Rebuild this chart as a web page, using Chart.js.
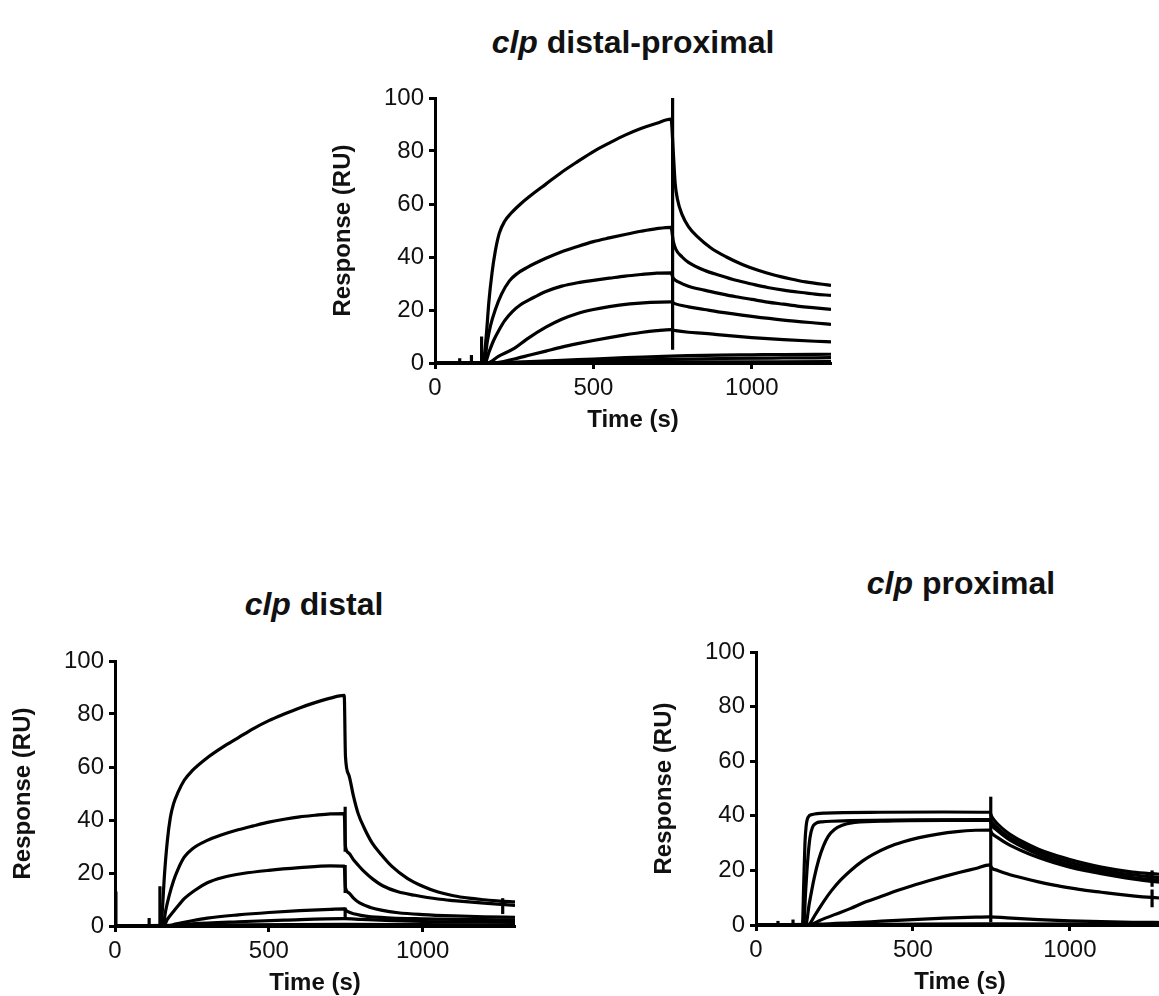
<!DOCTYPE html>
<html>
<head>
<meta charset="utf-8">
<script src="https://cdn.jsdelivr.net/npm/chart.js@4.4.1/dist/chart.umd.min.js"></script>
<style>
html,body{margin:0;padding:0;background:#fff;width:1159px;height:996px;overflow:hidden;position:relative;}
canvas{position:absolute;}
.ttl{position:absolute;font:bold 32px "Liberation Sans",Arial,sans-serif;line-height:32px;white-space:nowrap;transform:translateX(-50%);color:#111;}
</style>
</head>
<body>
<div class="ttl" style="left:633px;top:26px"><i>clp</i> distal-proximal</div>
<div class="ttl" style="left:314px;top:588px"><i>clp</i> distal</div>
<div class="ttl" style="left:961px;top:567px"><i>clp</i> proximal</div>
<canvas id="c1" width="521" height="357" style="left:320px;top:78px"></canvas>
<canvas id="c2" width="525" height="357" style="left:0px;top:641px"></canvas>
<canvas id="c3" width="533" height="365" style="left:641px;top:632px"></canvas>
<script>
// ---------- axis ticks ----------
const xTickValues = [0, 500, 1000];
const xTickLabels = ['0', '500', '1000'];
const yTickValues = [0, 20, 40, 60, 80, 100];
const yTickLabels = ['0', '20', '40', '60', '80', '100'];
const xAxisTitle = 'Time (s)';
const yAxisTitle = 'Response (RU)';
const xMaxDistalProximal = 1250;
const xMaxDistal = 1300;
const xMaxProximal = 1300;

// ---------- clp distal-proximal : [time (s), response (RU)] ----------
const dp1 = [[0,0],[150,0],[155,2],[163,12],[170,23],[180,34],[190,42],[203,49],[220,53.5],[240,56.5],[270,60],[300,63],[350,67.5],[400,72],[450,76],[500,79.8],[550,83],[600,86],[650,88.5],[700,90.5],[745,92],
  [752,80],[758,68],[765,62],[780,56],[800,51.5],[830,47.5],[870,43.5],[920,40],[970,37.2],[1020,35],[1070,33.2],[1120,31.8],[1170,30.6],[1250,29.3]];
const dp2 = [[0,0],[155,0],[165,8],[175,14],[190,20],[210,26],[235,31],[260,33.8],[290,36],[350,39.5],[400,42],[450,44],[500,45.8],[550,47.2],[600,48.5],[650,49.7],[700,50.7],[745,51.2],
  [752,46],[760,43],[780,40],[800,38],[850,35],[900,33],[950,31.2],[1000,29.8],[1050,28.5],[1100,27.5],[1150,26.7],[1200,26],[1250,25.5]];
const dp3 = [[0,0],[158,0],[170,4],[185,8.5],[200,12],[220,16],[245,19.5],[270,22],[300,24],[350,27],[400,29],[450,30.3],[500,31.2],[550,32],[600,32.8],[650,33.4],[700,33.9],[745,34],
  [752,32],[770,30.5],[800,29],[850,27.5],[900,26.2],[950,25],[1000,24],[1050,23],[1100,22.2],[1150,21.4],[1200,20.8],[1250,20.2]];
const dp4 = [[0,0],[165,0],[200,2.5],[250,5.5],[290,9],[350,13.5],[400,16.5],[450,18.7],[500,20.2],[550,21.3],[615,22.3],[680,22.9],[745,23.1],
  [755,22.5],[800,21.2],[850,20.2],[900,19.2],[1000,17.6],[1100,16.2],[1200,15.1],[1250,14.6]];
const dp5 = [[0,0],[180,0],[250,1.5],[300,3],[350,4.5],[400,6],[450,7.3],[500,8.5],[550,9.6],[600,10.6],[650,11.5],[700,12.2],[745,12.6],
  [760,12.2],[800,11.6],[850,11.2],[900,10.6],[1000,9.6],[1100,8.8],[1200,8.2],[1250,8]];
const dp6 = [[0,0],[200,0],[300,0.5],[400,1],[500,1.5],[600,2],[700,2.4],[745,2.6],[800,2.8],[900,3],[1000,3.1],[1100,3.2],[1250,3.3]];
const dp7 = [[0,0],[200,0],[400,0.5],[600,1],[745,1.4],[900,1.7],[1100,1.9],[1250,2]];
const dp8 = [[0,0],[300,0.2],[745,0.4],[1250,0.5]];
const dpSpikes = [[[78,0],[78,1.8]],[[115,0],[115,3]],[[147,0],[147,10]],[[750,5],[750,100]]];

// ---------- clp distal ----------
const d1 = [[0,0],[150,0],[155,8],[160,18],[170,32],[180,41],[190,46],[205,50.5],[225,55],[250,58.5],[300,63.5],[350,67.5],[400,71],[450,74.5],[500,77.5],[550,80],[600,82.3],[650,84.3],[700,86],[745,87],
  [749,64],[760,57],[775,49],[790,42.5],[810,37],[835,31.5],[865,27],[900,22.5],[950,18],[1000,15],[1050,12.8],[1100,11.4],[1150,10.5],[1200,9.9],[1250,9.4],[1300,9.1]];
const d2 = [[0,0],[155,0],[165,6],[175,11],[190,17],[205,21.5],[225,26],[250,29],[300,32.3],[350,34.5],[400,36.3],[450,37.8],[500,39.2],[550,40.3],[600,41.2],[650,41.8],[700,42.3],[745,42.4],
  [749,30],[760,27.5],[775,25],[790,23],[810,20.5],[840,17.5],[870,15.2],[920,12.9],[975,11.6],[1050,10.2],[1100,9.6],[1200,8.6],[1300,7.8]];
const d3 = [[0,0],[158,0],[170,2.5],[190,5.5],[210,8.3],[225,10.3],[260,13.5],[300,16.3],[350,18.3],[415,19.8],[500,21],[600,22],[700,22.7],[745,22.6],
  [749,14.5],[760,12.5],[775,10.5],[795,8.7],[830,7],[865,6],[920,5],[1000,4.3],[1100,3.8],[1200,3.5],[1300,3.3]];
const d4 = [[0,0],[165,0],[200,0.8],[250,2],[300,3],[400,4.2],[500,5.1],[600,5.8],[700,6.3],[745,6.5],
  [755,5.5],[780,4.5],[820,3.6],[900,3],[1000,2.7],[1100,2.5],[1200,2.4],[1300,2.3]];
const d5 = [[0,0],[170,0],[250,0.8],[400,1.6],[550,2.2],[745,2.8],[800,2.5],[900,2],[1000,1.7],[1150,1.5],[1300,1.4]];
const d6 = [[0,0],[300,0.3],[745,0.6],[1000,0.5],[1300,0.4]];
const dSpikes = [[[3,0],[3,13]],[[111,0],[111,3]],[[146,0],[146,15]],[[748,45],[748,28]],[[748,23],[748,12.5]],[[748,7],[748,3]],[[1260,4.5],[1260,10.5]]];

// ---------- clp proximal ----------
const pA = [[0,0],[148,0],[152,15],[156,30],[160,36.5],[166,39.5],[180,40.5],[220,41],[400,41.3],[600,41.4],[745,41.3],
  [752,39.5],[770,37],[800,34],[850,30.5],[900,27.8],[950,25.7],[1000,24],[1050,22.5],[1100,21.2],[1150,20.2],[1200,19.4],[1260,18.8],[1300,18.5]];
const pB = [[0,0],[152,0],[158,12],[165,24],[172,32],[180,35.8],[190,37.2],[210,37.8],[300,38.2],[500,38.5],[745,38.6],
  [752,37.5],[770,35.5],[800,32.7],[850,29.5],[900,26.8],[950,24.7],[1000,23],[1050,21.5],[1100,20.3],[1150,19.2],[1200,18.4],[1260,17.6],[1300,17.2]];
const pC = [[0,0],[158,0],[170,8],[185,17],[200,24],[215,29],[230,32.5],[250,35],[275,36.5],[300,37.3],[400,38],[600,38.3],[745,38.3],
  [752,36.5],[770,34.5],[800,31.8],[850,28.5],[900,25.8],[950,23.7],[1000,22],[1050,20.6],[1100,19.4],[1150,18.3],[1200,17.4],[1260,16.6],[1300,16.2]];
const pD = [[0,0],[165,0],[190,4],[215,8.5],[240,12.5],[270,16.5],[300,19.8],[340,23.5],[372,25.8],[420,28.5],[470,30.5],[520,32],[580,33.3],[640,34.2],[700,34.7],[745,34.8],
  [752,33.5],[770,32],[800,29.8],[850,27],[900,24.7],[950,22.8],[1000,21.2],[1050,19.9],[1100,18.8],[1150,17.8],[1200,16.9],[1260,16],[1300,15.6]];
const pE = [[0,0],[170,0],[200,1.5],[250,3.8],[300,6],[350,8.5],[400,10.5],[450,12.6],[500,14.5],[550,16.2],[600,17.8],[650,19.3],[700,20.7],[745,22],
  [752,20.8],[770,20],[800,18.8],[850,17.2],[900,15.8],[950,14.6],[1000,13.6],[1050,12.7],[1100,12],[1150,11.3],[1200,10.7],[1260,10.1],[1300,9.8]];
const pF = [[0,0],[200,0.3],[300,0.8],[400,1.4],[500,2],[600,2.5],[700,2.9],[745,3],[800,2.6],[900,2],[1000,1.5],[1100,1.2],[1200,1],[1300,0.9]];
const pG = [[0,0],[400,0.2],[745,0.4],[1300,0.3]];
const pSpikes = [[[70,0],[70,1.5]],[[118,0],[118,2]],[[748,1],[748,47]],[[1262,14],[1262,20]],[[1262,6.5],[1262,13]]];

// ---------- drawing ----------
Chart.defaults.font.family = '"Liberation Sans", Arial, sans-serif';
Chart.defaults.color = '#111';

function curve(arr) {
  return { data: arr.map(p => ({x: p[0], y: p[1]})), borderColor: '#000', borderWidth: 3.2,
    pointRadius: 0, fill: false, cubicInterpolationMode: 'monotone', borderJoinStyle: 'round' };
}
function spike(seg) {
  return { data: seg.map(p => ({x: p[0], y: p[1]})), borderColor: '#000', borderWidth: 3.2,
    pointRadius: 0, fill: false, tension: 0 };
}
function axisCommon() {
  return {
    grid: { drawOnChartArea: false, drawTicks: true, tickLength: 6, tickWidth: 3, tickColor: '#000' },
    border: { display: true, width: 3, color: '#000' }
  };
}
function makeChart(id, curves, spikes, xMax) {
  const datasets = curves.map(curve).concat(spikes.map(spike));
  return new Chart(document.getElementById(id), {
    type: 'line',
    data: { datasets },
    options: {
      responsive: false, animation: false, events: [],
      layout: { padding: { top: 20, right: 10, bottom: 0, left: 0 } },
      plugins: { legend: { display: false }, tooltip: { enabled: false }, title: { display: false } },
      scales: {
        x: Object.assign(axisCommon(), {
          type: 'linear', min: 0, max: xMax,
          afterBuildTicks: s => { s.ticks = xTickValues.map(v => ({value: v})); },
          afterFit: s => { s.height = 72; },
          ticks: { font: { size: 24 }, color: '#111', padding: 5, maxRotation: 0, autoSkip: false,
                   callback: v => xTickLabels[xTickValues.indexOf(v)] },
          title: { display: true, text: xAxisTitle, font: { size: 24, weight: 'bold' }, color: '#111', padding: 0 }
        }),
        y: Object.assign(axisCommon(), {
          type: 'linear', min: 0, max: 100,
          afterBuildTicks: s => { s.ticks = yTickValues.map(v => ({value: v})); },
          afterFit: s => { s.width = 115; },
          ticks: { font: { size: 24 }, color: '#111', padding: 5, autoSkip: false,
                   callback: v => yTickLabels[yTickValues.indexOf(v)] },
          title: { display: true, text: yAxisTitle, font: { size: 24, weight: 'bold' }, color: '#111', padding: { top: 8.6, bottom: 0 } }
        })
      }
    }
  });
}

makeChart('c1', [dp1, dp2, dp3, dp4, dp5, dp6, dp7, dp8], dpSpikes, xMaxDistalProximal);
makeChart('c2', [d1, d2, d3, d4, d5, d6], dSpikes, xMaxDistal);
makeChart('c3', [pA, pB, pC, pD, pE, pF, pG], pSpikes, xMaxProximal);
</script>
</body>
</html>
